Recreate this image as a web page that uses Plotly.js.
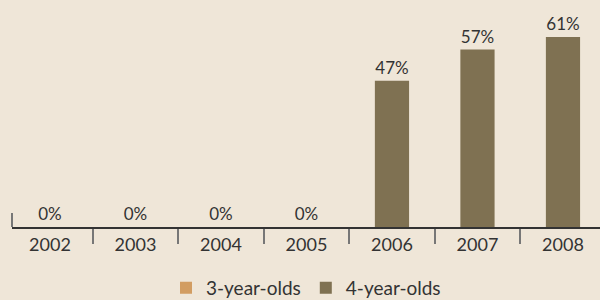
<!DOCTYPE html>
<html>
<head>
<meta charset="utf-8">
<script src="https://cdn.plot.ly/plotly-3.0.1.min.js"></script>
<style>html,body{margin:0;padding:0;background:#efe6d8;}#chart{width:600px;height:300px;}</style>
</head>
<body>
<div id="chart"></div>
<script>
const years = ['2002','2003','2004','2005','2006','2007','2008'];
const threeYearOlds = [0,0,0,0,0,0,0];
const fourYearOlds = [0,0,0,0,47,57,61];
const seriesNames = ['3-year-olds','4-year-olds'];

const traces = [
  {
    type:'bar', name:seriesNames[0], x:years, y:threeYearOlds,
    marker:{color:'#d29d62', line:{width:0}}, width:0.4, hoverinfo:'skip'
  },
  {
    type:'bar', name:seriesNames[1], x:years, y:fourYearOlds,
    marker:{color:'#7f7152', line:{width:0}}, width:0.4,
    texttemplate:'%{y}%', textposition:'outside', cliponaxis:false,
    textfont:{family:'Lato, sans-serif', size:17, color:'#333333'}
  }
];

const layout = {
  width:600, height:300,
  margin:{l:12, r:0, t:0, b:73, autoexpand:false},
  paper_bgcolor:'#efe6d8', plot_bgcolor:'#efe6d8',
  barmode:'overlay',
  font:{family:'Lato, sans-serif', color:'#333333'},
  xaxis:{
    type:'category', range:[-0.444, 6.433], showgrid:false, zeroline:false,
    showline:true, linecolor:'#333333', linewidth:2,
    ticks:'outside', tickson:'boundaries', ticklen:15, tickwidth:2, tickcolor:'#777777',
    tickfont:{family:'Lato, sans-serif', size:18, color:'#333333'}
  },
  yaxis:{range:[0,72.9], visible:false, fixedrange:true},
  shapes:[{type:'line', xref:'paper', yref:'y', x0:0, x1:0, y0:0, y1:4.5, line:{color:'#777777', width:2}}],
  legend:{orientation:'h', x:0.5, xanchor:'center', y:-0.268, yanchor:'middle',
    font:{family:'Lato, sans-serif', size:19, color:'#333333'}, bgcolor:'rgba(0,0,0,0)'},
  showlegend:true
};

Plotly.newPlot('chart', traces, layout, {displayModeBar:false, staticPlot:true});
</script>
</body>
</html>
